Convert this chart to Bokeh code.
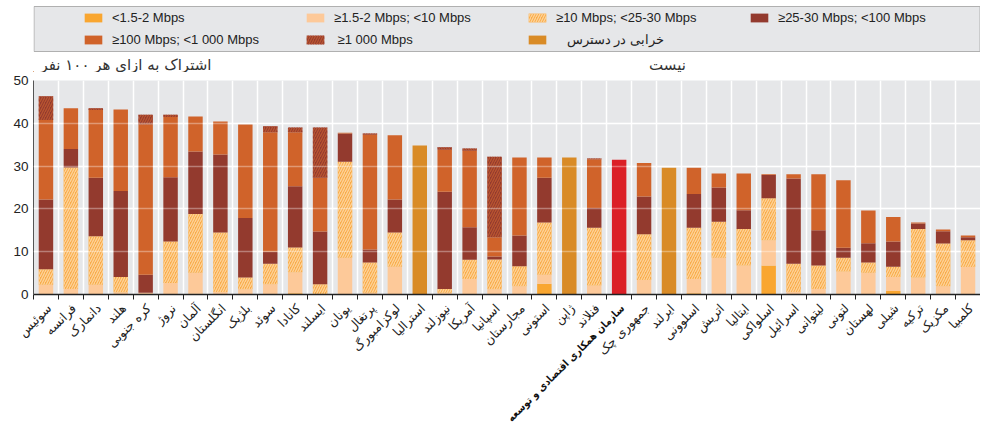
import numpy as np
from bokeh.plotting import figure
from bokeh.models import (Range1d, FixedTicker, ColumnDataSource, Legend, LegendItem, Grid)
from bokeh.core.properties import value
from bokeh.layouts import column, row
from bokeh.embed import file_html
from bokeh.resources import INLINE
from bokeh.transform import stack

countries = ["سوئیس", "فرانسه", "دانمارک", "هلند", "کره جنوبی", "نروژ", "آلمان", "انگلستان",
             "بلژیک", "سوئد", "کانادا", "ایسلند", "یونان", "پرتغال", "لوکزامبورگ", "استرالیا",
             "نیوزلند", "آمریکا", "اسپانیا", "مجارستان", "استونی", "ژاپن", "فنلاند",
             "سازمان همکاری اقتصادی و توسعه", "جمهوری چک", "ایرلند", "اسلوونی", "اتریش",
             "ایتالیا", "اسلواکی", "اسرائیل", "لیتوانی", "لتونی", "لهستان", "شیلی", "ترکیه",
             "مکزیک", "کلمبیا"]
oecd_name = "سازمان همکاری اقتصادی و توسعه"

lt2 =       [0, 0, 0, 0, 0, 0, 0.2, 0, 0, 0, 0.3, 0, 0, 0, 0, 0, 0, 0, 0, 0, 2.5, 0, 0, 0, 0, 0, 0.3, 0, 0, 6.8, 0, 0, 0, 0, 0.8, 0, 0.2, 0]
s2_10 =     [2.3, 1.3, 2.3, 0.5, 0.4, 2.7, 4.9, 0.6, 1.2, 2.4, 4.9, 0, 8.6, 0.4, 6.5, 0, 0.4, 3.6, 1.2, 1.9, 2.1, 0, 2.1, 0, 3.4, 0, 3.3, 8.6, 6.8, 5.9, 0.6, 1.3, 5.4, 5.1, 3.3, 4.0, 1.7, 6.4]
s10_25 =    [3.6, 28.4, 11.3, 3.6, 0, 9.7, 13.7, 13.9, 2.8, 4.8, 5.8, 2.4, 22.4, 7.1, 8.0, 0, 0.9, 4.5, 7.0, 4.7, 12.2, 0, 13.5, 0, 10.7, 0, 12.0, 8.4, 8.5, 9.8, 6.6, 5.5, 3.2, 2.4, 2.4, 11.3, 10.0, 6.3]
s25_100 =   [16.3, 4.3, 13.7, 20.1, 4.2, 15.0, 14.6, 18.2, 13.9, 2.8, 14.3, 12.3, 6.6, 3.0, 7.7, 0, 22.7, 7.6, 0.7, 7.2, 10.5, 0, 4.6, 0, 8.8, 0, 7.9, 8.0, 4.4, 5.4, 19.9, 8.2, 2.3, 4.5, 5.9, 1.3, 2.9, 0.7]
s100_1000 = [18.6, 9.5, 15.8, 19.0, 35.2, 14.1, 8.2, 7.7, 21.8, 27.9, 12.6, 12.6, 0.2, 26.8, 15.0, 0, 9.8, 17.9, 4.5, 18.2, 4.7, 0, 11.4, 0, 7.8, 0, 6.1, 3.3, 8.6, 0.2, 1.0, 13.1, 15.8, 7.6, 5.7, 0.2, 0.4, 0.4]
s1000 =     [5.5, 0, 0.4, 0, 2.2, 0.5, 0, 0, 0, 1.4, 1.1, 11.7, 0, 0.3, 0, 0, 0.6, 0.5, 18.8, 0, 0, 0, 0.2, 0, 0, 0, 0, 0, 0, 0, 0, 0, 0, 0, 0, 0, 0, 0]
na =        [0, 0, 0, 0, 0, 0, 0, 0, 0, 0, 0, 0, 0, 0, 0, 34.8, 0, 0, 0, 0, 0, 32.0, 0, 0, 0, 29.6, 0, 0, 0, 0, 0, 0, 0, 0, 0, 0, 0, 0]
oecd =      [0, 0, 0, 0, 0, 0, 0, 0, 0, 0, 0, 0, 0, 0, 0, 0, 0, 0, 0, 0, 0, 0, 0, 31.5, 0, 0, 0, 0, 0, 0, 0, 0, 0, 0, 0, 0, 0, 0]

y_ticks = [0, 10, 20, 30, 40, 50]
legend_labels = ["<1.5-2 Mbps", "≥1.5-2 Mbps; <10 Mbps", "≥10 Mbps; <25-30 Mbps",
                 "≥25-30 Mbps; <100 Mbps", "≥100 Mbps; <1 000 Mbps", " ≥1 000 Mbps",
                 "   خرابی در دسترس"]
y_title = "اشتراک به ازای هر ۱۰۰ نفر"
extra_text = "نیست"

n = len(countries)
xs = [i + 0.5 for i in range(n)]
src = ColumnDataSource(dict(x=xs, na=na, oecd=oecd, lt2=lt2, s2_10=s2_10, s10_25=s10_25,
                            s25_100=s25_100, s100_1000=s100_1000, s1000=s1000))

BG = "#e6e7e9"
FA = "DejaVu Sans"
styles = {
    "na": dict(fill_color="#d98b26"),
    "oecd": dict(fill_color="#db1f26"),
    "lt2": dict(fill_color="#f9a630"),
    "s2_10": dict(fill_color="#fdc999"),
    "s10_25": dict(fill_color="#f9ab48", hatch_pattern="/", hatch_color="#fdd39a",
                   hatch_scale=5, hatch_weight=1.3),
    "s25_100": dict(fill_color="#933a2e"),
    "s100_1000": dict(fill_color="#d0632a"),
    "s1000": dict(fill_color="#933a2e", hatch_pattern="/", hatch_color="#b9552f",
                  hatch_scale=5, hatch_weight=1.3),
}
order = ["na", "oecd", "lt2", "s2_10", "s10_25", "s25_100", "s100_1000", "s1000"]

W = 980
LEFT = 33
FW = W - LEFT
xr = Range1d(0, n)

# ---------------- top: legend box + titles ----------------
TOP_H = 72
pl = figure(width=W, height=TOP_H, x_range=Range1d(0, FW), y_range=Range1d(0, TOP_H),
            output_backend="svg", toolbar_location=None,
            x_axis_location=None, y_axis_location=None,
            min_border_left=LEFT, min_border_right=0, min_border_top=0, min_border_bottom=0)
pl.background_fill_color = "white"
pl.border_fill_color = "white"
pl.outline_line_color = None
pl.grid.visible = False
pl.quad(left=[0.5], right=[FW - 0.5], bottom=[21], top=[66],
        fill_color=BG, line_color="#b0b0b0", line_width=1)

leg_keys = ["lt2", "s2_10", "s10_25", "s25_100", "s100_1000", "s1000", "na"]
items = []
for key, lab in zip(leg_keys, legend_labels):
    r = pl.vbar(x=[-500], top=[1], width=1, line_color=None, **styles[key])
    items.append(LegendItem(label=lab, renderers=[r]))
legend = Legend(items=items, ncols=4, orientation="horizontal", location=(49, 22),
                padding=0, margin=0, spacing=0, border_line_color=None,
                background_fill_alpha=0, glyph_width=22, glyph_height=11,
                label_standoff=8, label_width=192, label_height=22,
                label_text_font="Liberation Sans", label_text_font_size="13px",
                label_text_color="#222222")
pl.add_layout(legend)

pl.text(x=[7], y=[8], text=[y_title], text_align="left", text_baseline="middle",
        text_font=value(FA), text_font_size="15px", text_color="#333333")
pl.text(x=[634], y=[8], text=[extra_text], text_align="center", text_baseline="middle",
        text_font=value(FA), text_font_size="15px", text_color="#333333")

# ---------------- main chart ----------------
p = figure(width=W, height=229, x_range=xr, y_range=Range1d(0, 50),
           output_backend="svg", toolbar_location=None,
           min_border_left=LEFT, min_border_right=0, min_border_top=8, min_border_bottom=7)
p.background_fill_color = BG
p.border_fill_color = "white"
p.outline_line_color = None

for i, key in enumerate(order):
    p.vbar(x="x", bottom=stack(*order[:i]), top=stack(*order[:i + 1]), width=0.58,
           source=src, line_color=None, **styles[key])

p.xgrid.ticker = FixedTicker(ticks=list(range(n + 1)))
p.xgrid.grid_line_color = "white"
p.xgrid.grid_line_width = 1.5
p.ygrid.ticker = FixedTicker(ticks=[10, 20, 30, 40])
p.ygrid.grid_line_color = "white"
p.ygrid.grid_line_width = 1.5
p.add_layout(Grid(dimension=1, ticker=FixedTicker(ticks=[10, 20, 30, 40]),
                  grid_line_color="white", grid_line_alpha=0.35, grid_line_width=1.5,
                  level="overlay"))

p.xaxis.ticker = FixedTicker(ticks=[], minor_ticks=list(range(n + 1)))
p.xaxis.major_label_standoff = 0
p.xaxis.major_tick_line_color = None
p.xaxis.major_tick_out = 0
p.xaxis.major_tick_in = 0
p.xaxis.minor_tick_line_color = "#222222"
p.xaxis.minor_tick_out = 5
p.xaxis.minor_tick_in = 0
p.xaxis.axis_line_color = "#222222"
p.xaxis.axis_line_width = 1.5

p.yaxis.ticker = FixedTicker(ticks=y_ticks)
p.yaxis.major_tick_line_color = None
p.yaxis.major_tick_out = 0
p.yaxis.major_tick_in = 0
p.yaxis.minor_tick_line_color = None
p.yaxis.axis_line_color = "#555555"
p.yaxis.major_label_standoff = 5
p.yaxis.major_label_text_font = "Liberation Sans"
p.yaxis.major_label_text_font_size = "13.5px"
p.yaxis.major_label_text_color = "#222222"

# ---------------- category labels strip (frame spans the full width) ----------------
STRIP_H = 127
px_per_unit = FW / n
xr_strip = Range1d(-LEFT / px_per_unit, n)
ps = figure(width=W, height=STRIP_H, x_range=xr_strip, y_range=Range1d(-STRIP_H, 0),
            output_backend="svg", toolbar_location=None,
            x_axis_location=None, y_axis_location=None,
            min_border_left=0, min_border_right=0, min_border_top=0, min_border_bottom=0)
ps.background_fill_color = "white"
ps.border_fill_color = "white"
ps.outline_line_color = None
ps.grid.visible = False

norm_x = [x for x, c in zip(xs, countries) if c != oecd_name]
norm_t = [c for c in countries if c != oecd_name]
bold_x = [x for x, c in zip(xs, countries) if c == oecd_name]
bold_t = [c for c in countries if c == oecd_name]
ps.text(x=norm_x, y=[-4.5] * len(norm_x), text=norm_t, angle=np.pi / 4, x_offset=3,
        text_align="right", text_baseline="middle", text_font=value(FA),
        text_font_size="12.5px", text_color="#222222")
ps.text(x=bold_x, y=[-4.5] * len(bold_x), text=bold_t, angle=np.pi / 4, x_offset=3,
        text_align="right", text_baseline="middle", text_font=value("DejaVu Sans Condensed"),
        text_font_size="10.5px", text_font_style="bold", text_color="#111111")

layout = column(pl, p, row(ps, spacing=0), spacing=0)
open("out.html", "w").write(file_html(layout, INLINE))
